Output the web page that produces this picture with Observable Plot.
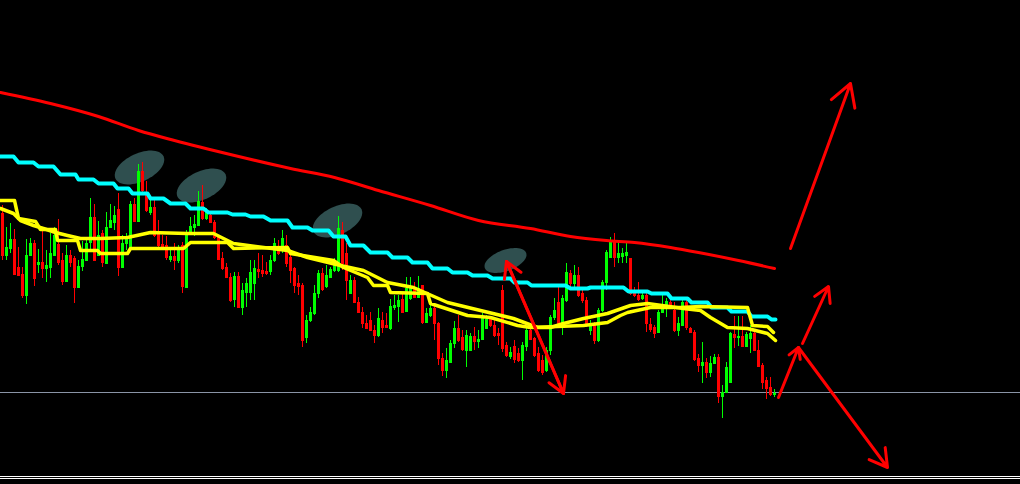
<!DOCTYPE html>
<html><head><meta charset="utf-8">
<script src="https://cdn.jsdelivr.net/npm/d3@7"></script>
<script src="https://cdn.jsdelivr.net/npm/@observablehq/plot@0.6"></script>
<style>html,body{margin:0;padding:0;background:#000;overflow:hidden}svg{display:block}</style>
</head><body><div id="chart"></div>
<script>
// Candles (price units), one per bar index 0..193
const open=[287,245,252,261,233,226,205,245,257,236,238,232,233,245,256,240,219,245,242,213,234,240,258,283,245,267,237,273,278,291,233,257,253,296,279,329,305,288,293,267,256,255,241,244,240,255,213,268,273,275,298,282,285,278,263,242,233,223,201,224,193,208,208,217,231,230,229,229,240,252,250,255,243,232,217,215,163,180,187,207,227,214,223,230,230,270,247,207,220,198,188,177,180,170,165,180,175,172,193,194,201,189,202,212,203,215,178,185,192,177,142,130,138,157,172,163,150,150,164,159,161,172,182,175,167,210,155,144,154,147,140,154,170,162,147,140,130,150,183,198,175,200,227,217,225,207,200,170,175,160,190,218,243,258,243,244,245,242,207,205,202,205,176,173,168,188,195,198,190,170,175,198,172,168,142,135,138,128,137,143,104,108,118,166,163,164,154,162,167,150,135,120,113,106];
const high=[295,273,277,271,253,233,261,262,260,251,269,250,267,273,281,247,255,250,244,240,259,263,302,296,279,270,288,296,294,307,265,267,299,302,336,338,319,303,303,280,265,264,253,257,255,258,270,283,285,309,315,292,288,280,265,248,237,227,228,228,217,222,240,240,247,245,238,245,262,260,270,265,250,233,225,217,185,193,215,230,232,235,233,242,284,278,257,225,223,203,193,185,188,175,192,188,187,201,205,205,208,223,223,218,224,215,192,197,195,178,147,152,160,179,185,170,170,167,173,170,187,185,184,180,172,215,158,153,160,152,158,173,175,163,153,145,153,185,202,213,205,237,230,235,233,210,203,180,178,192,220,250,263,267,258,252,258,242,213,218,208,207,182,175,190,205,202,202,198,183,203,203,173,170,146,158,142,144,146,146,115,138,168,184,184,184,168,175,170,160,137,123,123,111];
const low=[240,240,247,225,224,202,196,244,214,227,222,218,222,244,235,215,218,233,197,213,229,239,250,239,244,233,236,273,270,224,232,250,252,278,278,305,288,285,263,253,250,240,238,230,237,207,213,267,264,274,280,280,277,261,240,230,223,198,193,192,185,193,200,200,222,223,225,225,238,245,247,233,217,207,205,153,157,178,185,202,209,212,222,228,228,230,200,207,197,187,172,171,169,157,163,167,172,170,190,178,187,188,200,202,203,176,177,183,160,135,124,122,138,152,158,149,133,149,150,152,160,171,173,163,155,148,143,141,137,138,120,149,160,143,128,125,128,145,180,173,165,198,213,213,203,197,173,165,156,158,188,210,242,233,237,237,237,205,203,199,200,168,168,162,167,187,183,194,168,164,174,170,167,139,128,117,122,123,137,97,82,107,117,152,154,153,153,147,149,133,111,101,104,103];
const close=[245,253,261,226,225,205,245,257,222,238,232,235,247,265,238,219,245,238,213,234,241,257,283,240,265,238,273,280,285,233,257,261,296,279,329,310,290,293,265,255,253,243,244,240,250,214,268,274,276,299,282,288,278,263,241,232,223,200,224,193,210,217,228,232,229,227,227,240,257,247,262,237,230,215,214,160,180,188,207,227,211,225,231,238,272,237,220,220,198,188,177,172,170,165,182,173,173,194,195,200,188,212,212,203,212,178,187,192,177,142,130,140,157,172,160,151,165,164,159,161,182,181,175,165,165,152,145,148,141,140,155,170,161,145,130,128,150,183,190,177,202,228,217,225,205,200,177,174,160,190,218,248,258,243,247,247,248,207,205,201,205,177,171,167,188,195,199,195,170,177,198,173,168,141,135,138,128,137,143,104,108,133,167,163,164,154,166,167,150,134,118,112,106,107];

// Slow moving average (red)
const redMaIdx=[-0.5,12,24,34,43,58,72,83,94,107,119,132,142,151,158,167,174,184,193];
const redMaVal=[408,397,384,370,360,345,332,323,310,295,280,272,264,260,258,253,248,240,232];

// Stepped average (cyan)
const cyanIdx=[-0.5,2.75,4,7.75,9,12.75,14.5,18.25,19,22.75,24,27.75,28.75,31.5,32.5,36.25,37,40.25,42,45.75,47,50.25,51.5,56.25,57.5,60.75,62,65.25,67,71.25,72.5,76.25,77.5,81.5,82.75,85.75,87,90.25,92,96.25,97.5,101.25,102.5,106.25,107.5,111.25,112.5,116.25,117.5,121.25,122.5,127,128,131.25,132.25,140.75,142,146.25,147,155.25,156.5,161.25,162.25,166.25,167.25,171.25,172.25,176.25,177.25,181.25,182.25,186.25,187.25,191.25,192.25,193.25];
const cyanVal=[344,344,338,338,334,334,326,326,321,321,317,317,312,312,307,307,302,302,297,297,292,292,288,288,286,286,284,284,280,280,273,273,270,270,264,264,255,255,248,248,243,243,238,238,232,232,228,228,225,225,222,222,218,218,215,215,212,212,213,213,209,209,207,207,202,202,198,198,193,193,189,189,184,184,181,181];

// Fast averages (yellow)
const yellowSIdx=[-0.5,2.75,4.5,7.75,10.25,13.25,16.25,19.5,24.5,31.25,37,46.25,52.75,57.75,71.25,76.25,84.5,90.25,96.25,102.75,111.25,119.5,127.75,133.75,137,140.25,145.25,151.25,157,161.25,170.25,174.5,177,181.25,186.25,191.25,193.25];
const yellowSVal=[292,287,280,275,272,268,265,262,262,263,268,267,267,257,250,243,235,230,218,213,198,190,182,173,173,177,182,187,195,197,192,190,183,173,172,167,160];
const yellowTIdx=[-0.5,3,4,8.25,9.5,13.25,13.75,18.75,19.5,23.75,24.5,31.25,32,45.25,47,56.25,57.75,71.25,72,82.75,85.25,91.25,92.75,96.25,97,106.25,107,116.25,122,128.75,132,145.25,151.25,154.5,156.25,162,169.5,174.5,186.25,187.5,191.25,192.75];
const yellowTVal=[300,300,282,279,271,271,260,260,250,250,247,247,252,252,258,258,252,253,247,240,233,223,215,215,208,207,197,185,183,175,173,175,178,185,188,193,193,194,193,175,174,168];

// Horizontal levels
const supportLevel=[108];
const bottomBorder=[24,22];

// Highlight zones (centres)
const zoneIdx=[34.25,49.75,83.75];
const zoneVal=[333,315,280];
const smallZoneIdx=[125.75];
const smallZoneVal=[240];

// Arrows
const arrowX1=[197,200,194,199,126,140.25];
const arrowY1=[252,157,103,153,239,107];
const arrowX2=[212,206.5,199,221.25,140.25,126];
const arrowY2=[417,214,153,33,107,239];

const candles=open.map((o,i)=>({i,open:o,high:high[i],low:low[i],close:close[i]}));
const pts=(idx,val)=>idx.map((x,k)=>({x,y:val[k]}));
const arrows=arrowX1.map((x1,k)=>({x1,y1:arrowY1[k],x2:arrowX2[k],y2:arrowY2[k]}));
const heads=[12.5,8.5,6,10,9,9];
const candleColor=d=>d.close>=d.open?"#00ff00":"#ff0000";

function ellipseSymbol(ratio,angleDeg){
  return {draw(context,size){
    const a=Math.sqrt(size/Math.PI),b=a*ratio,th=angleDeg*Math.PI/180;
    const N=60;
    for(let k=0;k<N;k++){
      const t=2*Math.PI*k/N,x=a*Math.cos(t),y=b*Math.sin(t);
      const X=x*Math.cos(th)+y*Math.sin(th),Y=-x*Math.sin(th)+y*Math.cos(th);
      if(k===0)context.moveTo(X,Y);else context.lineTo(X,Y);
    }
    context.closePath();
  }};
}

const chart=Plot.plot({
  width:1020,height:484,margin:0,
  x:{axis:null,domain:[-0.5,254.5]},
  y:{axis:null,domain:[16,500]},
  style:{background:"#000"},
  marks:[
    Plot.ruleY(supportLevel,{stroke:"#8a94a6",strokeWidth:1}),
    Plot.ruleY(bottomBorder,{stroke:"#ffffff",strokeWidth:1}),
    Plot.dot(pts(zoneIdx,zoneVal),{x:"x",y:"y",r:26.5,symbol:ellipseSymbol(0.53,25),fill:"#2f4f4f",stroke:"none"}),
    Plot.dot(pts(smallZoneIdx,smallZoneVal),{x:"x",y:"y",r:22,symbol:ellipseSymbol(0.48,20),fill:"#2f4f4f",stroke:"none"}),
    Plot.ruleX(candles,{x:"i",y1:"low",y2:"high",stroke:candleColor,strokeWidth:1,shapeRendering:"crispEdges"}),
    Plot.rect(candles,{x1:d=>d.i-0.375,x2:d=>d.i+0.375,y1:d=>Math.min(d.open,d.close)-0.5,y2:d=>Math.max(d.open,d.close)+0.5,fill:candleColor,shapeRendering:"crispEdges"}),
    Plot.line(pts(redMaIdx,redMaVal),{x:"x",y:"y",stroke:"#ff0000",strokeWidth:3,curve:"monotone-x"}),
    Plot.line(pts(cyanIdx,cyanVal),{x:"x",y:"y",stroke:"#00ffff",strokeWidth:4}),
    Plot.line(pts(yellowTIdx,yellowTVal),{x:"x",y:"y",stroke:"#ffff00",strokeWidth:3.5}),
    Plot.line(pts(yellowSIdx,yellowSVal),{x:"x",y:"y",stroke:"#ffff00",strokeWidth:3.5}),
    ...arrows.map((a,k)=>Plot.arrow([a],{x1:"x1",y1:"y1",x2:"x2",y2:"y2",stroke:"#ff0000",strokeWidth:3,headLength:heads[k]}))
  ]
});
document.getElementById("chart").appendChild(chart);
</script>
</body></html>
